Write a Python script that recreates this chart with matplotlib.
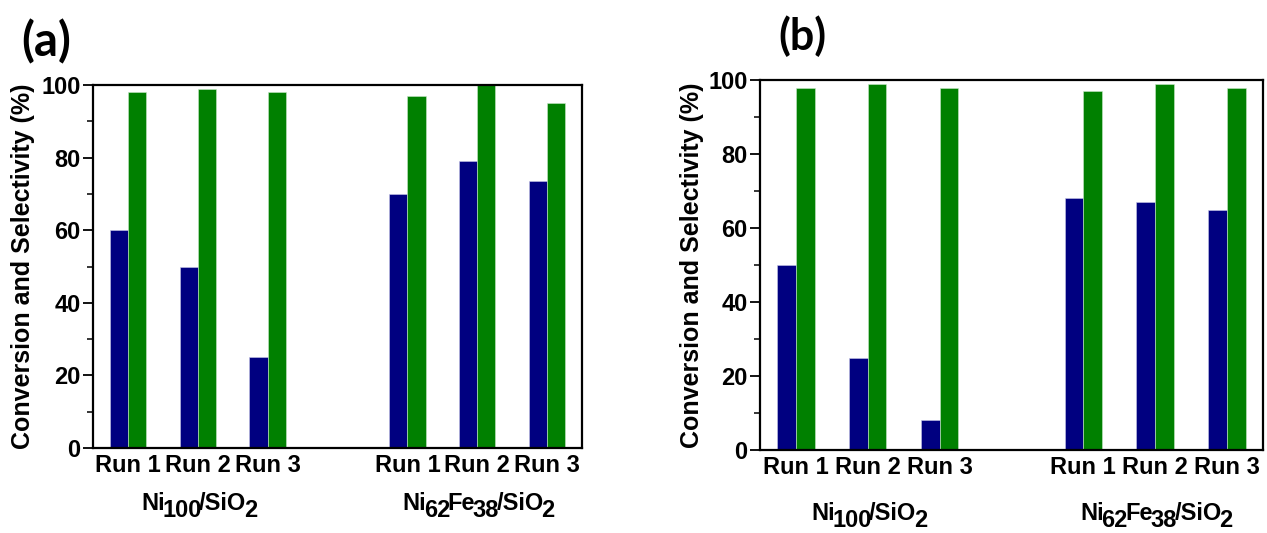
import re
import matplotlib
matplotlib.use("Agg")
import matplotlib.pyplot as plt
from matplotlib.transforms import offset_copy
import numpy as np

plt.rcParams['font.family'] = ['Liberation Sans', 'DejaVu Sans']

runs = ["Run 1", "Run 2", "Run 3", "Run 1", "Run 2", "Run 3"]
positions = [0, 1, 2, 4, 5, 6]
groups = ["Ni_{100}/SiO_{2}", "Ni_{62}Fe_{38}/SiO_{2}"]
group_centers = [1, 5]

conv_a = [60, 50, 25, 70, 79, 73.5]
sel_a = [98, 99, 98, 97, 100, 95]
conv_b = [50, 25, 8, 68, 67, 65]
sel_b = [98, 99, 98, 97, 99, 98]

blue = "#000080"
green = "#008000"

fig = plt.figure(figsize=(12.67, 5.33), dpi=100)
ax_a = fig.add_axes([0.0734, 0.1595, 0.386, 0.681])
ax_b = fig.add_axes([0.5998, 0.1557, 0.397, 0.694])
renderer = fig.canvas.get_renderer()


def parse(label):
    pieces = []
    for m in re.finditer(r"_\{([^}]*)\}|([^_]+)", label):
        if m.group(1) is not None:
            pieces.append((m.group(1), True))
        else:
            pieces.append((m.group(2), False))
    return pieces


def rich_label(ax, xdata, y_px_below, label, fontsize=16, sub_drop=7, kern=2.5):
    pieces = parse(label)
    widths = []
    for s, sub in pieces:
        t = fig.text(0, 0, s, fontsize=fontsize, fontweight="bold")
        widths.append(t.get_window_extent(renderer).width - kern)
        t.remove()
    total = sum(widths)
    trans = ax.get_xaxis_transform()
    x0 = -total / 2
    for (s, sub), wd in zip(pieces, widths):
        tr = offset_copy(trans, fig=fig, x=x0 * 72 / fig.dpi,
                         y=(-y_px_below - (sub_drop if sub else 0)) * 72 / fig.dpi,
                         units="points")
        ax.text(xdata, 0, s, transform=tr, fontsize=fontsize, fontweight="bold",
                ha="left", va="baseline", clip_on=False)
        x0 += wd


w = 0.26
configs = [
    (ax_a, conv_a, sel_a, "(a)", 21, 56, 23, 62, 34),
    (ax_b, conv_b, sel_b, "(b)", 778, 50, 692, 70, 31),
]
for ax, conv, sel, lab, labx, laby, ylx, gy, labsize in configs:
    x = np.array(positions, dtype=float)
    ax.bar(x - w / 2, conv, width=w, color=blue, edgecolor="#c8c8e8", linewidth=0.4)
    ax.bar(x + w / 2, sel, width=w, color=green, edgecolor="#c8e8c8", linewidth=0.4)
    ax.set_xlim(-0.5, 6.5)
    ax.set_ylim(0, 100)
    ax.set_yticks(np.arange(0, 101, 20))
    ax.set_yticks(np.arange(10, 100, 20), minor=True)
    ax.set_xticks(positions)
    ax.set_xticklabels(runs, fontsize=17, fontweight="bold")
    ax.tick_params(axis="x", length=0, pad=4)
    ax.tick_params(axis="y", which="major", direction="out", length=7, width=1.3,
                   labelsize=17, pad=2)
    ax.tick_params(axis="y", which="minor", direction="out", length=4, width=1.1)
    for t in ax.get_yticklabels():
        t.set_fontweight("bold")
    for s in ax.spines.values():
        s.set_linewidth(1.6)
    bbox = ax.get_position()
    fig.text(ylx / 1267, (bbox.y0 + bbox.y1) / 2, "Conversion and Selectivity (%)",
             rotation=90, fontsize=18, fontweight="bold", ha="center", va="center")
    fig.text(labx / 1267, 1 - laby / 533, lab, fontsize=labsize, fontweight="bold",
             family=["Lato", "DejaVu Sans"], ha="left", va="baseline")
    for g, gc in zip(groups, group_centers):
        rich_label(ax, gc, gy, g, fontsize=17, sub_drop=7)

fig.savefig("out.png", dpi=100)
